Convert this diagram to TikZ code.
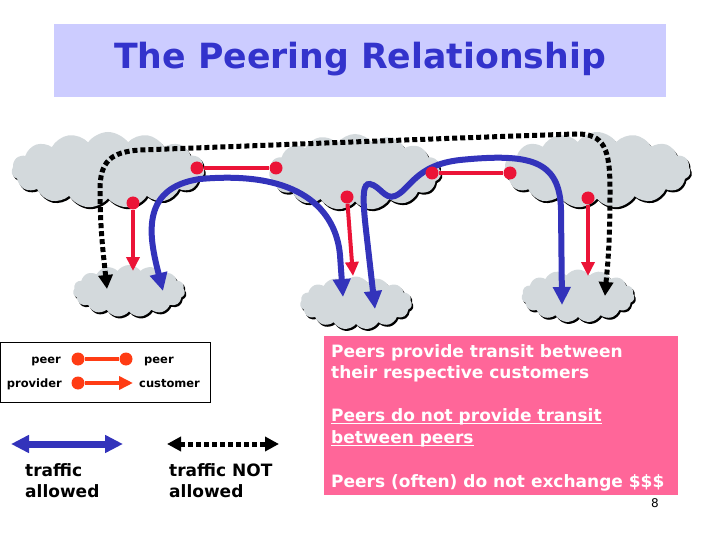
\documentclass[tikz,border=0pt]{standalone}
\usepackage{fontspec}
\setmainfont{DejaVu Sans}
\usetikzlibrary{arrows.meta,shapes.symbols,shadows}
\definecolor{titlebg}{RGB}{204,204,255}
\definecolor{titlefg}{RGB}{51,51,204}
\definecolor{cloudc}{RGB}{211,217,220}
\definecolor{linkred}{RGB}{235,20,55}
\definecolor{legred}{RGB}{255,60,20}
\definecolor{trafblue}{RGB}{51,51,187}
\definecolor{pinkbox}{RGB}{255,102,153}
\begin{document}
\begin{tikzpicture}[x=1pt,y=-1pt,
  cloudnode/.style={cloud, cloud puffs=15, cloud puff arc=110, cloud ignores aspect,
    fill=cloudc, draw=none, inner sep=0pt,
    drop shadow={shadow xshift=1.5pt, shadow yshift=-2pt, fill=black, opacity=1}},
  redline/.style={draw=linkred, line width=4pt},
  reddot/.style={circle, fill=linkred, inner sep=0pt, minimum size=13pt},
  legline/.style={draw=legred, line width=4pt},
  legdot/.style={circle, fill=legred, inner sep=0pt, minimum size=13pt},
  redtip/.style={arrows={-Triangle[width=13pt,length=14pt]}},
  bluearrow/.style={draw=trafblue, line width=6pt,
    arrows={Triangle[width=17pt,length=18pt]-Triangle[width=17pt,length=18pt]}},
  blackarrow/.style={draw=black, line width=5pt, dash pattern=on 5pt off 3pt,
    arrows={Triangle[width=14pt,length=14pt]-Triangle[width=14pt,length=14pt]}},
  smalltxt/.style={font=\fontsize{11.5}{13}\selectfont\bfseries, inner sep=0pt},
  bigtxt/.style={font=\fontsize{17}{22}\selectfont\bfseries, inner sep=0pt},
  pinktxt/.style={font=\fontsize{17}{22}\selectfont\bfseries, text=white, inner sep=0pt}
]
\useasboundingbox (0,0) rectangle (720,540);

% title
\node[fill=titlebg, minimum width=612pt, minimum height=73pt, inner sep=0pt] (titlebox) at (360,60.5) {};
\node[font=\fontsize{34.7}{40}\selectfont\bfseries, text=titlefg, inner sep=0pt, anchor=base] (title) at (360,69) {The Peering Relationship};

% clouds
\node[cloudnode, minimum width=193pt, minimum height=76pt] (cL) at (108,170) {};
\node[cloudnode, minimum width=172pt, minimum height=76pt] (cM) at (355,172) {};
\node[cloudnode, minimum width=187pt, minimum height=76pt] (cR) at (597,170) {};
\node[cloudnode, minimum width=112pt, minimum height=52pt] (bL) at (129,291) {};
\node[cloudnode, minimum width=112pt, minimum height=53pt] (bM) at (356,303) {};
\node[cloudnode, minimum width=113pt, minimum height=53pt] (bR) at (578,296) {};

% black dotted (traffic not allowed)
\coordinate (k1s) at (107,289);
\coordinate (k1e) at (605,296);
\draw[blackarrow] (k1s) .. controls (104,260) and (100,230) .. (100,190)
  .. controls (100,162) and (110,152) .. (140,150)
  .. controls (250,146) and (450,138) .. (575,134)
  .. controls (605,133) and (610,150) .. (610,190)
  .. controls (610,250) and (607,270) .. (k1e);

% blue paths (traffic allowed)
\coordinate (b1s) at (163,291);
\coordinate (b1e) at (343,297);
\draw[bluearrow] (b1s) .. controls (150,240) and (138,188) .. (200,179)
  .. controls (300,170) and (336,210) .. (340,255) -- (b1e);
\coordinate (b2s) at (375,309);
\coordinate (b2e) at (562,305);
\draw[bluearrow] (b2s) -- (366,230) .. controls (362,195) and (363,183) .. (370,184)
  .. controls (380,186) and (385,200) .. (395,196)
  .. controls (410,190) and (415,165) .. (460,160)
  .. controls (530,153) and (560,160) .. (561,210) -- (b2e);

% red peer links
\node[reddot] (p1a) at (197,168) {};
\node[reddot] (p1b) at (276,168) {};
\draw[redline] (p1a) -- (p1b);
\node[reddot] (p2a) at (432,173) {};
\node[reddot] (p2b) at (510,173) {};
\draw[redline] (p2a) -- (p2b);

% red provider-customer arrows
\node[reddot] (d1) at (133,203) {};
\coordinate (t1) at (133,271);
\draw[redline, redtip] (d1) -- (t1);
\node[reddot] (d2) at (347,197) {};
\coordinate (t2) at (353,276);
\draw[redline, redtip] (d2) -- (t2);
\node[reddot] (d3) at (588,198) {};
\coordinate (t3) at (588,276);
\draw[redline, redtip] (d3) -- (t3);

% legend box
\node[draw=black, line width=0.8pt, minimum width=210pt, minimum height=60pt, inner sep=0pt] (legbox) at (105.5,372) {};
\node[smalltxt, anchor=base east] (lp1) at (61,363) {peer};
\node[legdot] (lda) at (78,359) {};
\node[legdot] (ldb) at (126,359) {};
\draw[legline] (lda) -- (ldb);
\node[smalltxt, anchor=base west] (lp2) at (144,363) {peer};
\node[smalltxt, anchor=base east] (lpr) at (62,387) {provider};
\node[legdot] (ldc) at (78,383) {};
\coordinate (ltc) at (133,383);
\draw[legline, redtip] (ldc) -- (ltc);
\node[smalltxt, anchor=base west] (lcu) at (139,387) {customer};

% traffic legend
\coordinate (la1) at (11,444);
\coordinate (la2) at (123,444);
\draw[bluearrow, line width=7pt] (la1) -- (la2);
\node[bigtxt, anchor=base west] (ta1) at (25,476) {traffic};
\node[bigtxt, anchor=base west] (ta2) at (25,497) {allowed};
\coordinate (lb1) at (167,444);
\coordinate (lb2) at (279,444);
\draw[blackarrow] (lb1) -- (lb2);
\node[bigtxt, anchor=base west] (tb1) at (169,476) {traffic NOT};
\node[bigtxt, anchor=base west] (tb2) at (169,497) {allowed};

% pink box
\node[fill=pinkbox, minimum width=354pt, minimum height=159pt, inner sep=0pt] (pink) at (501,415.5) {};
\node[pinktxt, anchor=base west] (s1) at (331,357) {Peers provide transit between};
\node[pinktxt, anchor=base west] (s2) at (331,378) {their respective customers};
\node[pinktxt, anchor=base west] (s3) at (331,421) {Peers do not provide transit};
\node[pinktxt, anchor=base west] (s4) at (331,443) {between peers};
\node[pinktxt, anchor=base west] (s5) at (331,487) {Peers (often) do not exchange \$\$\$};
\draw[white, line width=1.5pt] ([yshift=-2.5pt]s3.base west) -- ([yshift=-2.5pt]s3.base east);
\draw[white, line width=1.5pt] ([yshift=-2.5pt]s4.base west) -- ([yshift=-2.5pt]s4.base east);

% page number
\node[font=\fontsize{12}{14}\selectfont, inner sep=0pt] (pgnum) at (655,503) {8};
\end{tikzpicture}
\end{document}
